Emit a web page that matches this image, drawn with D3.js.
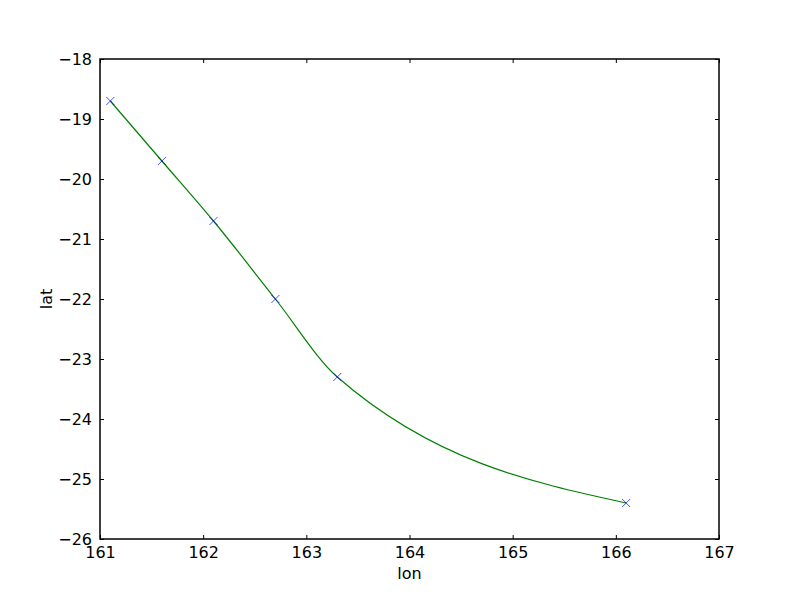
<!DOCTYPE html>
<html>
<head>
<meta charset="utf-8">
<script src="https://cdn.jsdelivr.net/npm/d3@7"></script>
<style>
body { margin: 0; background: #fff; }
text { font-family: "DejaVu Sans", sans-serif; }
</style>
</head>
<body>
<svg id="chart" width="800" height="600"></svg>
<script>
// track points
var lons = [161.1, 161.6, 162.1, 162.7, 163.3, 166.1];
var lats = [-18.7, -19.7, -20.7, -22.0, -23.3, -25.4];
var xTicks = [161, 162, 163, 164, 165, 166, 167];
var yTicks = [-26, -25, -24, -23, -22, -21, -20, -19, -18];

var svg = d3.select('#chart');
var padL = 100, padR = 719, padT = 59, padB = 539;

var x = d3.scaleLinear().domain([161, 167]).range([padL, padR]);
var y = d3.scaleLinear().domain([-26, -18]).range([padB, padT]);

var pts = lons.map(function(d, i){ return [d, lats[i]]; });

// smooth line through the points
var line = d3.line()
	.x(function(d) { return x(d[0]); })
	.y(function(d) { return y(d[1]); })
	.curve(d3.curveMonotoneX);

svg.append('path')
	.datum(pts)
	.attr('d', line)
	.attr('fill', 'none')
	.attr('stroke', '#008000')
	.attr('stroke-width', 1.2);

// x markers
var m = svg.append('g').selectAll('g')
	.data(pts)
	.enter()
	.append('g')
	.attr('transform', function(d) { return 'translate(' + x(d[0]) + ',' + y(d[1]) + ')'; });
m.append('path')
	.attr('d', 'M-4,-4L4,4M-4,4L4,-4')
	.attr('stroke', '#0000ff')
	.attr('stroke-width', 0.7)
	.attr('fill', 'none');

var fmt = function(d) { return d < 0 ? '\u2212' + Math.abs(d) : String(d); };

// axes, ticks pointing inward
var xAxisB = d3.axisBottom(x).tickValues(xTicks).tickSizeInner(-4).tickSizeOuter(0).tickPadding(8).tickFormat(fmt);
var xAxisT = d3.axisTop(x).tickValues(xTicks).tickSizeInner(-4).tickSizeOuter(0).tickFormat('');
var yAxisL = d3.axisLeft(y).tickValues(yTicks).tickSizeInner(-4).tickSizeOuter(0).tickPadding(8).tickFormat(fmt);
var yAxisR = d3.axisRight(y).tickValues(yTicks).tickSizeInner(-4).tickSizeOuter(0).tickFormat('');

function styleAxis(g){
	g.select('.domain').remove();
	g.selectAll('line').attr('stroke', '#000');
	g.selectAll('text').attr('font-size', 16).attr('fill', '#000').attr('font-family', 'DejaVu Sans');
}

svg.append('g').attr('transform', 'translate(0,' + padB + ')').call(xAxisB).call(styleAxis);
svg.append('g').attr('transform', 'translate(0,' + padT + ')').call(xAxisT).call(styleAxis);
svg.append('g').attr('transform', 'translate(' + padL + ',0)').call(yAxisL).call(styleAxis);
svg.append('g').attr('transform', 'translate(' + padR + ',0)').call(yAxisR).call(styleAxis);

// frame
svg.append('rect')
	.attr('x', padL).attr('y', padT)
	.attr('width', padR - padL).attr('height', padB - padT)
	.attr('fill', 'none').attr('stroke', '#000').attr('stroke-width', 1.5);

svg.append('text')
	.attr('x', (padL + padR) / 2).attr('y', 579)
	.attr('text-anchor', 'middle').attr('font-size', 16)
	.text('lon');

svg.append('text')
	.attr('transform', 'translate(52,' + ((padT + padB) / 2) + ') rotate(-90)')
	.attr('text-anchor', 'middle').attr('font-size', 16)
	.text('lat');
</script>
</body>
</html>
